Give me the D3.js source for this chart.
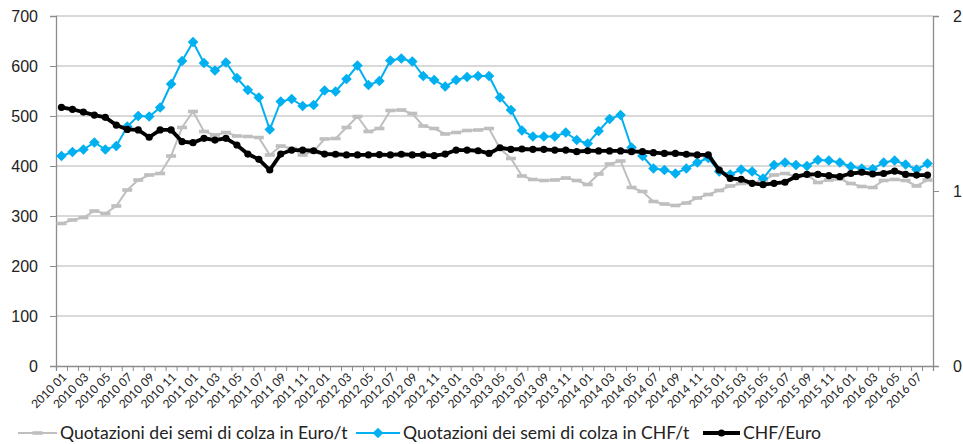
<!DOCTYPE html>
<html>
<head>
<meta charset="utf-8">
<script src="https://cdn.jsdelivr.net/npm/d3@7"></script>
<style>
  body { margin: 0; background: #fff; }
  svg { font-family: Lato, 'Open Sans', sans-serif; }
</style>
</head>
<body>
<svg id="chart" width="963" height="444"></svg>
<script>
// months 2010 01 .. 2016 08
const months = []
for (let y = 2010; y <= 2016; y++) {
  for (let m = 1; m <= 12; m++) {
    if (y === 2016 && m > 8) break
    months.push(y + ' ' + String(m).padStart(2, '0'))
  }
}

const euroPerT = [285, 292, 297, 310, 305, 320, 352, 372, 382, 385, 420, 477, 509, 469, 462, 467, 460, 459, 457, 422,
  440, 435, 422, 429, 454, 455, 477, 499, 469, 475, 511, 512, 505, 480, 475, 464, 467, 471, 472, 475,
  435, 415, 380, 373, 371, 372, 376, 371, 363, 384, 404, 410, 357, 349, 329, 324, 321, 326, 336, 343,
  351, 360, 365, 366, 372, 382, 385, 379, 382, 367, 372, 374, 365, 359, 357, 371, 373, 371, 360, 372]

const chfPerT = [420, 428, 433, 447, 433, 440, 479, 500, 499, 517, 564, 610, 648, 606, 591, 607, 576, 552, 537, 473,
  529, 534, 520, 522, 551, 549, 574, 601, 562, 570, 611, 615, 609, 580, 572, 559, 572, 578, 580, 580,
  537, 512, 471, 459, 459, 459, 467, 452, 445, 470, 494, 502, 437, 420, 395, 392, 385, 395, 407, 416,
  389, 383, 393, 389, 375, 402, 407, 402, 400, 412, 411, 407, 399, 395, 394, 407, 411, 403, 393, 405]

const chfEuro = [1.478, 1.467, 1.451, 1.434, 1.421, 1.377, 1.352, 1.349, 1.307, 1.349, 1.349, 1.282, 1.276, 1.301, 1.291, 1.301, 1.263, 1.211, 1.181, 1.12,
  1.211, 1.234, 1.234, 1.23, 1.211, 1.21, 1.206, 1.206, 1.206, 1.208, 1.206, 1.21, 1.206, 1.206, 1.202, 1.211, 1.234, 1.234, 1.23, 1.215,
  1.247, 1.238, 1.24, 1.238, 1.238, 1.234, 1.234, 1.225, 1.23, 1.229, 1.229, 1.229, 1.225, 1.225, 1.219, 1.215, 1.215, 1.21, 1.206, 1.206,
  1.12, 1.072, 1.067, 1.044, 1.036, 1.044, 1.05, 1.082, 1.095, 1.095, 1.088, 1.082, 1.1, 1.107, 1.097, 1.1, 1.114, 1.095, 1.091, 1.091]

const leftTicks = [0, 100, 200, 300, 400, 500, 600, 700]
const rightTicks = [0, 1, 2]
const seriesNames = ['Quotazioni dei semi di colza in Euro/t', 'Quotazioni dei semi di colza in CHF/t', 'CHF/Euro']

const plotL = 56
const plotR = 933
const plotT = 16
const plotB = 366

const svg = d3.select('#chart')

const x = d3.scaleBand().domain(months).range([plotL, plotR]).padding(0)
const cx = d => x(d) + x.bandwidth() / 2
const yL = d3.scaleLinear().domain([0, 700]).range([plotB, plotT])
const yR = d3.scaleLinear().domain([0, 2]).range([plotB, plotT])
const xIdx = d3.scaleLinear().domain([0, months.length]).range([plotL, plotR])

const axisColor = '#8c8c8c'
const textColor = '#222'

// gridlines
svg.append('g')
  .selectAll('line')
  .data(leftTicks.filter(d => d > 0))
  .join('line')
  .attr('x1', plotL).attr('x2', plotR)
  .attr('y1', d => yL(d)).attr('y2', d => yL(d))
  .attr('stroke', '#cccccc').attr('stroke-width', 1.3)

// left axis
const gL = svg.append('g').attr('transform', `translate(${plotL},0)`)
  .call(d3.axisLeft(yL).tickValues(leftTicks).tickSize(6).tickPadding(12))
gL.select('.domain').attr('stroke', axisColor).attr('stroke-width', 1.3)
gL.selectAll('.tick line').attr('stroke', axisColor)
gL.selectAll('.tick text').attr('fill', textColor).style('font-size', '16px')

// right axis
const gR = svg.append('g').attr('transform', `translate(${plotR},0)`)
  .call(d3.axisRight(yR).tickValues(rightTicks).tickSize(6).tickPadding(14).tickFormat(d3.format('d')))
gR.select('.domain').attr('stroke', axisColor).attr('stroke-width', 1.3)
gR.selectAll('.tick line').attr('stroke', axisColor)
gR.selectAll('.tick text').attr('fill', textColor).style('font-size', '16px')

// bottom axis: tick marks between categories
const gB = svg.append('g').attr('transform', `translate(0,${plotB})`)
  .call(d3.axisBottom(xIdx).tickValues(d3.range(months.length + 1)).tickSize(5).tickFormat(''))
gB.select('.domain').attr('stroke', axisColor).attr('stroke-width', 1.3)
gB.selectAll('.tick line').attr('stroke', axisColor)

// category labels every second month
svg.append('g')
  .selectAll('text')
  .data(months.filter((d, i) => i % 2 === 0))
  .join('text')
  .attr('transform', d => `translate(${cx(d) + 3},${plotB + 9}) rotate(-45)`)
  .attr('text-anchor', 'end')
  .attr('dy', '0.35em')
  .attr('fill', textColor)
  .style('font-size', '11.8px')
  .text(d => d)

// series
const line = (ys, vals) => d3.line().x((d, i) => cx(months[i])).y(d => ys(d))(vals)

const gray = '#bfbfbf'
const blue = '#00b0f0'

svg.append('path').attr('d', line(yL, euroPerT))
  .attr('fill', 'none').attr('stroke', gray).attr('stroke-width', 2)
svg.append('g').selectAll('rect').data(euroPerT).join('rect')
  .attr('x', (d, i) => cx(months[i]) - 5).attr('y', d => yL(d) - 1.8)
  .attr('width', 10).attr('height', 3.6).attr('fill', gray)

svg.append('path').attr('d', line(yL, chfPerT))
  .attr('fill', 'none').attr('stroke', blue).attr('stroke-width', 2)
const diamond = d3.symbol().type(d3.symbolDiamond2).size(72)
svg.append('g').selectAll('path').data(chfPerT).join('path')
  .attr('d', diamond)
  .attr('transform', (d, i) => `translate(${cx(months[i])},${yL(d)})`)
  .attr('fill', blue)

svg.append('path').attr('d', line(yR, chfEuro))
  .attr('fill', 'none').attr('stroke', '#000').attr('stroke-width', 3.8)
svg.append('g').selectAll('circle').data(chfEuro).join('circle')
  .attr('cx', (d, i) => cx(months[i])).attr('cy', d => yR(d))
  .attr('r', 3.6).attr('fill', '#000')

// legend
const legY = 433
const legend = svg.append('g')
const items = [
  { x: 18, w: 39, color: gray, sw: 2, mark: 'dash' },
  { x: 356, w: 44, color: blue, sw: 2, mark: 'diamond' },
  { x: 703, w: 37, color: '#000', sw: 3.8, mark: 'circle' }
]
items.forEach((it, k) => {
  const g = legend.append('g')
  g.append('line').attr('x1', it.x).attr('x2', it.x + it.w)
    .attr('y1', legY).attr('y2', legY).attr('stroke', it.color).attr('stroke-width', it.sw)
  const mx = it.x + it.w / 2
  if (it.mark === 'dash') {
    g.append('rect').attr('x', mx - 5).attr('y', legY - 1.8).attr('width', 10).attr('height', 3.6).attr('fill', gray)
  } else if (it.mark === 'diamond') {
    g.append('path').attr('d', diamond).attr('transform', `translate(${mx},${legY})`).attr('fill', blue)
  } else {
    g.append('circle').attr('cx', mx).attr('cy', legY).attr('r', 3.6).attr('fill', '#000')
  }
  g.append('text').attr('x', it.x + it.w + 3).attr('y', legY).attr('dy', '0.35em')
    .attr('fill', textColor).style('font-size', '17.6px').text(seriesNames[k])
})
</script>
</body>
</html>
